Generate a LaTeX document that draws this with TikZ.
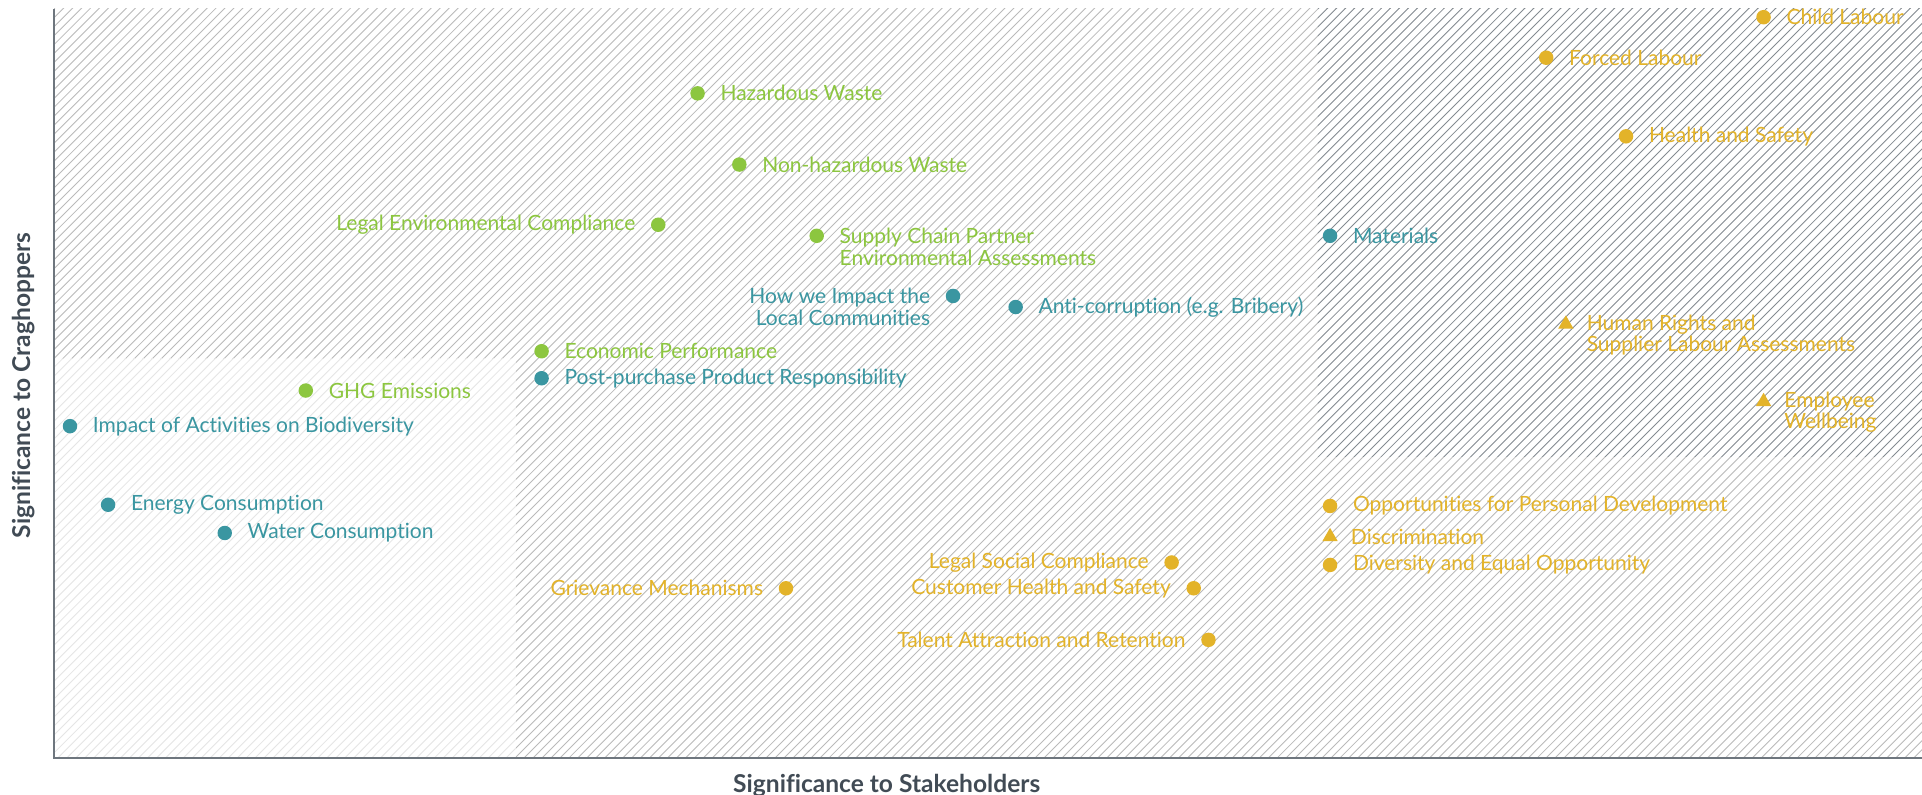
\documentclass[tikz,border=0pt]{standalone}
\usepackage{fontspec}
\setmainfont{Lato}[Ligatures=NoCommon]
\usetikzlibrary{positioning,shapes.geometric}
\definecolor{envgreen}{HTML}{8CC63F}
\definecolor{ecoteal}{HTML}{3A96A1}
\definecolor{socgold}{HTML}{E3B329}
\definecolor{axisgrey}{HTML}{6E767E}
\definecolor{titlegrey}{HTML}{414B55}

\begin{document}
\begin{tikzpicture}[x=0.5pt, y=-0.5pt, node distance=6pt, font={\fontsize{8.55}{8.75}\selectfont}]
	\tikzset{dot/.style={circle,inner sep=0pt,minimum size=5.9pt},
		tri/.style={regular polygon,regular polygon sides=3,inner sep=0pt,minimum size=7.2pt},
		lbl/.style={inner sep=0pt,align=left},
		lblr/.style={inner sep=0pt,align=right},
		twolines/.style={yshift=-4.4pt},
		hatchlight/.style={draw=black!10,line width=0.35pt},
		hatchmid/.style={draw=black!27,line width=0.35pt},
		hatchdark/.style={draw=axisgrey!85,line width=0.35pt},
		axis/.style={draw=axisgrey,line width=0.8pt},
		axtitle/.style={text=titlegrey,font={\fontsize{10}{10}\selectfont\bfseries}}}
	\useasboundingbox (0,0) rectangle (1565,647);

	% Hatched zones: whole plot, low zone, top zone
	\foreach \xa/\ya/\xb/\yb/\st in {44/7/1565/617/hatchmid, 44/292/420/617/hatchlight, 1073/7/1565/372/hatchdark}{
		\begin{scope}
			\clip (\xa,\ya) rectangle (\xb,\yb);
			\fill[white] (\xa,\ya) rectangle (\xb,\yb);
			\foreach \c in {0,7.3,...,2230}
				\draw[\st] (\c,0) -- (\c-650,650);
		\end{scope}
	}

	% Axes
	\coordinate (ytop) at (44,7);
	\coordinate (o) at (44,617);
	\coordinate (xend) at (1565,617);
	\draw[axis] (ytop) -- (o) -- (xend);
	\node[axtitle] (xt) at (722,640) {Significance to Stakeholders};
	\node[axtitle, rotate=90] (yt) at (19,314) {Significance to Craghoppers};

	% Environmental topics (green)
	\node[dot, fill=envgreen] (hw) at (568,76) {};
	\node[lbl, text=envgreen, right=of hw] {Hazardous Waste};
	\node[dot, fill=envgreen] (nhw) at (602,134) {};
	\node[lbl, text=envgreen, right=of nhw] {Non-hazardous Waste};
	\node[dot, fill=envgreen] (lec) at (536,183) {};
	\node[lblr, text=envgreen, left=of lec] {Legal Environmental Compliance};
	\node[dot, fill=envgreen] (scp) at (665,192) {};
	\node[lbl, text=envgreen, right=of scp, twolines] {Supply Chain Partner\\Environmental Assessments};
	\node[dot, fill=envgreen] (ep) at (441,286) {};
	\node[lbl, text=envgreen, right=of ep] {Economic Performance};
	\node[dot, fill=envgreen] (ghg) at (249,318) {};
	\node[lbl, text=envgreen, right=of ghg] {GHG Emissions};

	% Economic / product topics (teal)
	\node[dot, fill=ecoteal] (mat) at (1083,192) {};
	\node[lbl, text=ecoteal, right=of mat] {Materials};
	\node[dot, fill=ecoteal] (hwi) at (776,241) {};
	\node[lblr, text=ecoteal, left=of hwi, twolines] {How we Impact the\\Local Communities};
	\node[dot, fill=ecoteal] (ac) at (827,250) {};
	\node[lbl, text=ecoteal, right=of ac] {Anti-corruption (e.g. Bribery)};
	\node[dot, fill=ecoteal] (ppr) at (441,308) {};
	\node[lbl, text=ecoteal, right=of ppr] {Post-purchase Product Responsibility};
	\node[dot, fill=ecoteal] (bio) at (57,347) {};
	\node[lbl, text=ecoteal, right=of bio] {Impact of Activities on Biodiversity};
	\node[dot, fill=ecoteal] (en) at (88,411) {};
	\node[lbl, text=ecoteal, right=of en] {Energy Consumption};
	\node[dot, fill=ecoteal] (wat) at (183,434) {};
	\node[lbl, text=ecoteal, right=of wat] {Water Consumption};

	% Social topics (gold)
	\node[dot, fill=socgold] (cl) at (1436,14) {};
	\node[lbl, text=socgold, right=of cl] {Child Labour};
	\node[dot, fill=socgold] (fl) at (1259,47) {};
	\node[lbl, text=socgold, right=of fl] {Forced Labour};
	\node[dot, fill=socgold] (hs) at (1324,111) {};
	\node[lbl, text=socgold, right=of hs] {Health and Safety};
	\node[tri, fill=socgold] (hr) at (1275,264) {};
	\node[lbl, text=socgold, right=of hr, twolines] {Human Rights and\\Supplier Labour Assessments};
	\node[tri, fill=socgold] (ew) at (1436,327) {};
	\node[lbl, text=socgold, right=of ew, twolines] {Employee\\Wellbeing};
	\node[dot, fill=socgold] (opd) at (1083,412) {};
	\node[lbl, text=socgold, right=of opd] {Opportunities for Personal Development};
	\node[tri, fill=socgold] (dis) at (1083,437) {};
	\node[lbl, text=socgold, right=of dis] {Discrimination};
	\node[dot, fill=socgold] (deo) at (1083,460) {};
	\node[lbl, text=socgold, right=of deo] {Diversity and Equal Opportunity};
	\node[dot, fill=socgold] (lsc) at (954,458) {};
	\node[lblr, text=socgold, left=of lsc] {Legal Social Compliance};
	\node[dot, fill=socgold] (chs) at (972,479) {};
	\node[lblr, text=socgold, left=of chs] {Customer Health and Safety};
	\node[dot, fill=socgold] (gm) at (640,479) {};
	\node[lblr, text=socgold, left=of gm] {Grievance Mechanisms};
	\node[dot, fill=socgold] (tar) at (984,521) {};
	\node[lblr, text=socgold, left=of tar] {Talent Attraction and Retention};
\end{tikzpicture}
\end{document}
